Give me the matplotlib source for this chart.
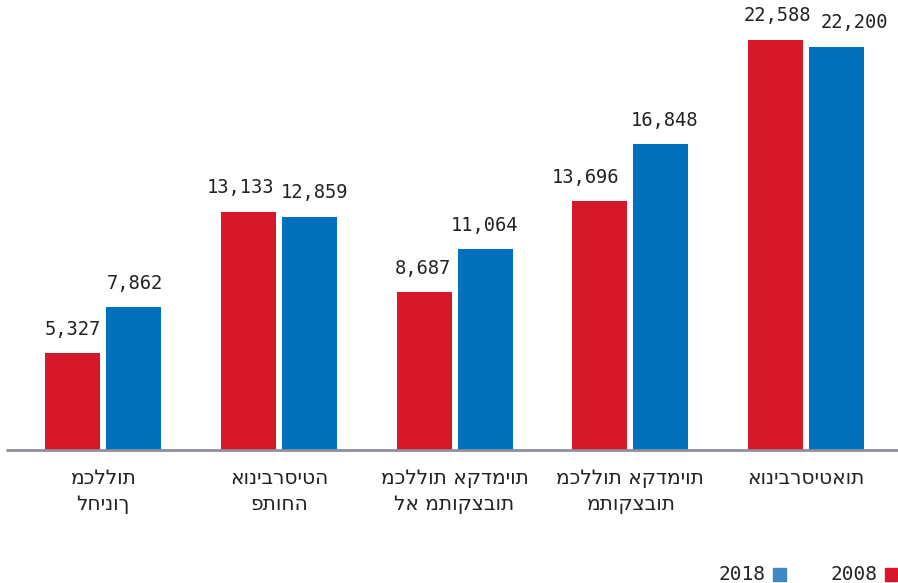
import matplotlib
matplotlib.use("Agg")
import matplotlib.pyplot as plt
import numpy as np

# Student counts by institution type
categories = [
    ["מכללות", "לחינוך"],
    ["אוניברסיטה", "פתוחה"],
    ["מכללות אקדמיות", "לא מתוקצבות"],
    ["מכללות אקדמיות", "מתוקצבות"],
    ["אוניברסיטאות"],
]
values_2008 = [5327, 13133, 8687, 13696, 22588]
values_2018 = [7862, 12859, 11064, 16848, 22200]
series_labels = ["2008", "2018"]

# horizontal nudges (px) that keep neighbouring value labels apart
nudge_2008 = [0, -8, -1, -14, 2]
nudge_2018 = [1, 5, -1, 4, 18]

RED = "#d7182a"
BLUE = "#0070ba"
BLUE_LEGEND = "#3f88c5"
TEXT = "#222222"
NUM_FONT = ["DejaVu Sans Mono", "DejaVu Sans"]
HEB_FONT = ["DejaVu Sans"]

W, H = 898, 583
PT = 72 / 100  # points per pixel at 100 dpi
fig = plt.figure(figsize=(W / 100, H / 100), dpi=100)
base_px = 450
ax = fig.add_axes([0, (H - base_px) / H, 1, base_px / H])

x = np.arange(len(categories))
spacing = 175.75  # px per group
bar_w = 55 / spacing
off = 30.5 / spacing
ax.set_xlim(-103 / spacing, (W - 103) / spacing)
ax.set_ylim(0, base_px / 0.01815)

ax.bar(x - off, values_2008, width=bar_w, color=RED, zorder=2)
ax.bar(x + off, values_2018, width=bar_w, color=BLUE, zorder=2)

for xs, vals, nudges in ((x - off, values_2008, nudge_2008),
                         (x + off, values_2018, nudge_2018)):
    for xi, v, dx in zip(xs, vals, nudges):
        ax.annotate(f"{v:,}", (xi, v), xytext=(dx * PT, 10.5),
                    textcoords="offset points", ha="center", va="bottom",
                    fontsize=13.5, color=TEXT, family=NUM_FONT)

# baseline
ax.plot([(6 - 103) / spacing, (W - 103) / spacing], [0, 0],
        color="#8e8e9c", lw=2, solid_capstyle="butt", zorder=3, clip_on=False)

for xi, lines in zip(x, categories):
    for k, line in enumerate(lines):
        ax.annotate(line, (xi, 0), xytext=(0, -28 * PT - 27 * PT * k),
                    textcoords="offset points", ha="center", va="center",
                    fontsize=14.5, color=TEXT, family=HEB_FONT)

ax.axis("off")

# legend: year text followed by a colored square
fig.text(878 / W, 1 - 574 / H, series_labels[0], ha="right", va="center",
         fontsize=14, color=TEXT, family=NUM_FONT)
fig.patches.append(plt.Rectangle((885 / W, 1 - 581 / H), 12 / W, 13 / H,
                                 transform=fig.transFigure, color=RED))
fig.text(766 / W, 1 - 574 / H, series_labels[1], ha="right", va="center",
         fontsize=14, color=TEXT, family=NUM_FONT)
fig.patches.append(plt.Rectangle((773 / W, 1 - 581 / H), 13 / W, 13 / H,
                                 transform=fig.transFigure, color=BLUE_LEGEND))

fig.savefig("out.png", dpi=100)
